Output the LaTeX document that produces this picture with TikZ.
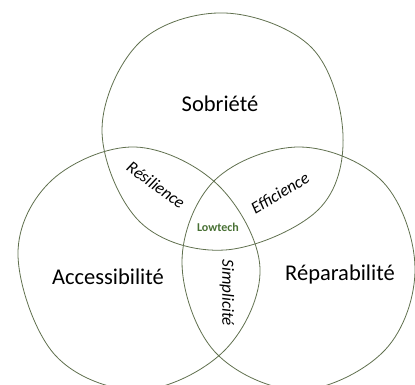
\documentclass[tikz,border=0pt]{standalone}
\usepackage{fontspec}
\setmainfont{Carlito}
\usepackage{xcolor}
\usepackage{tikz}
\definecolor{blobline}{RGB}{96,112,78}
\definecolor{lowgreen}{RGB}{72,112,52}

\begin{document}
\begin{tikzpicture}[
    x=1pt, y=-1pt,
    blob/.style={draw=blobline, line width=0.8pt},
    pillar/.style={font=\fontsize{22.5}{26}\selectfont, text=black},
    overlap/.style={font=\fontsize{17}{19}\selectfont\itshape, text=black, inner sep=0pt},
    core/.style={font=\fontsize{12}{14}\selectfont\bfseries, text=lowgreen, inner sep=0pt}
]
\useasboundingbox (0,0) rectangle (415,385);
% the three circles
\draw[blob] plot[smooth cycle, tension=0.6] coordinates {(225,13) (312,48) (343,135) (318,210) (225,250) (140,222) (102,130) (140,42)};
\draw[blob] plot[smooth cycle, tension=0.6] coordinates {(135,147) (218,185) (260,268) (225,350) (140,390) (55,355) (18,255) (52,180)};
\draw[blob] plot[smooth cycle, tension=0.6] coordinates {(300,147) (383,182) (415,268) (385,350) (300,390) (215,352) (182,262) (215,180)};
% labels
\node[pillar] (sobriete) at (220,104) {Sobriété};
\node[pillar] (access) at (108,277) {Accessibilité};
\node[pillar] (repar) at (340,275) {Réparabilité};
\node[overlap, rotate=-36] (resil) at (156,185) {Résilience};
\node[overlap, rotate=31] (effic) at (280,193) {Efficience};
\node[overlap, rotate=-90] (simpl) at (227,293) {Simplicité};
\node[core] (lowtech) at (218,227) {Lowtech};
\end{tikzpicture}
\end{document}
